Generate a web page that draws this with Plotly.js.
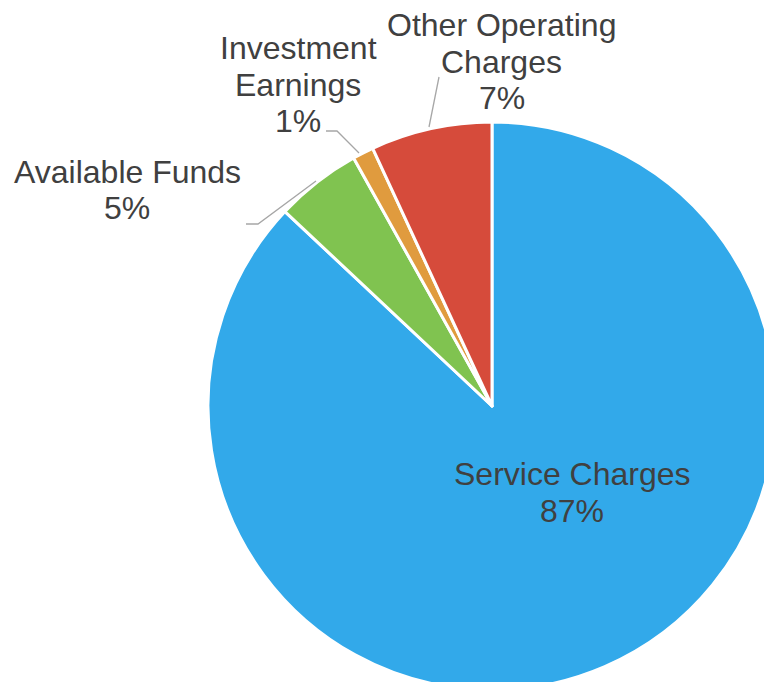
<!DOCTYPE html>
<html>
<head>
<meta charset="utf-8">
<script src="https://cdn.plot.ly/plotly-3.0.1.min.js"></script>
<style>
html,body{margin:0;padding:0;overflow:hidden;background:#fff;width:764px;height:682px;}
#chart{width:800px;height:720px;}
</style>
</head>
<body>
<div id="chart"></div>
<script>
// Data
var labels = ["Service Charges", "Available Funds", "Investment Earnings", "Other Operating Charges"];
var labelLines = [["Service Charges"], ["Available Funds"], ["Investment", "Earnings"], ["Other Operating", "Charges"]];
var values = [87.0, 4.9, 1.2, 6.9];
var pctText = ["87%", "5%", "1%", "7%"];
var colors = ["#32A9EA", "#80C350", "#E09B3E", "#D64B3B"];

var W = 800, H = 720;
function px(x){ return x / W; }
function py(y){ return 1 - y / H; }

// label anchor positions (pixel) for each category: x center, y of first line
var labelPos = [[572, 474], [127, 172], [298, 48], [502, 25]];
var lineStep = 36.5;

var annotations = [];
for (var i = 0; i < labels.length; i++) {
  var lines = labelLines[i].concat([pctText[i]]);
  for (var j = 0; j < lines.length; j++) {
    annotations.push({
      xref: "paper", yref: "paper",
      x: px(labelPos[i][0]), y: py(labelPos[i][1] + j * lineStep),
      xanchor: "center", yanchor: "middle",
      text: lines[j], showarrow: false,
      font: {family: "Liberation Sans, Arial, sans-serif", size: 32, color: "#404040"}
    });
  }
}

var lineStyle = {color: "#A6A6A6", width: 1.3};
var shapes = [
  {type: "path", xref: "paper", yref: "paper",
   path: "M " + px(246) + "," + py(224) + " L " + px(258) + "," + py(224) + " L " + px(316) + "," + py(181),
   line: lineStyle},
  {type: "path", xref: "paper", yref: "paper",
   path: "M " + px(326) + "," + py(131) + " L " + px(337) + "," + py(131) + " L " + px(359) + "," + py(153),
   line: lineStyle},
  {type: "path", xref: "paper", yref: "paper",
   path: "M " + px(439) + "," + py(77) + " L " + px(429) + "," + py(127),
   line: lineStyle}
];

var trace = {
  type: "pie",
  labels: labels,
  values: values,
  sort: false,
  direction: "clockwise",
  rotation: 0,
  textinfo: "none",
  hoverinfo: "label+percent",
  marker: {colors: colors, line: {color: "#ffffff", width: 3}},
  domain: {x: [208 / W, 776 / W], y: [1 - 690 / H, 1 - 122 / H]}
};

var layout = {
  width: W, height: H,
  margin: {l: 0, r: 0, t: 0, b: 0},
  showlegend: false,
  paper_bgcolor: "#ffffff",
  annotations: annotations,
  shapes: shapes
};

Plotly.newPlot("chart", [trace], layout, {displayModeBar: false, staticPlot: true});
</script>
</body>
</html>
